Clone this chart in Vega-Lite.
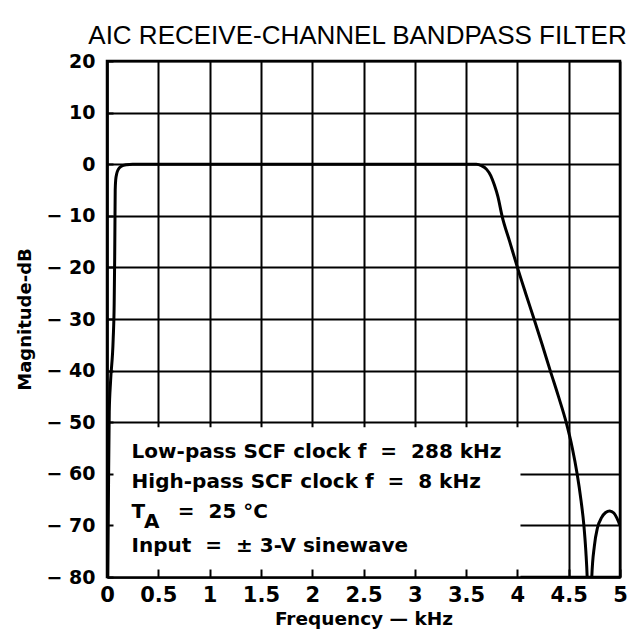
{
  "$schema": "https://vega.github.io/schema/vega-lite/v6.json",
  "width": 513,
  "height": 516,
  "autosize": {"type": "none"},
  "padding": {"left": 107, "top": 61, "right": 18, "bottom": 67},
  "background": "white",
  "title": {"text": "AIC RECEIVE-CHANNEL BANDPASS FILTER", "font": "Liberation Sans", "fontSize": 26, "fontWeight": "normal", "color": "black", "anchor": "middle", "offset": 3, "dx": -6},
  "config": {"view": {"stroke": "black", "strokeWidth": 2.5}},
  "resolve": {"axis": {"x": "independent", "y": "independent"}},
  "layer": [
    {
      "data": {"values": [{"box": "conditions"}]},
      "mark": {"type": "rect", "fill": "white"},
      "encoding": {
        "x": {"datum": 0, "type": "quantitative", "scale": {"domain": [0, 5], "nice": false, "zero": false},
          "axis": {"orient": "bottom", "values": [0, 0.5, 1, 1.5, 2, 2.5, 3, 3.5, 4, 4.5, 5], "grid": true, "gridColor": "black", "gridWidth": 2, "gridOpacity": 1, "domain": false, "ticks": false, "labels": false, "title": null, "zindex": 0}},
        "x2": {"datum": 4.03},
        "y": {"datum": -80, "type": "quantitative", "scale": {"domain": [-80, 20], "nice": false, "zero": false},
          "axis": {"orient": "left", "values": [-80, -70, -60, -50, -40, -30, -20, -10, 0, 10, 20], "grid": true, "gridColor": "black", "gridWidth": 2, "gridOpacity": 1, "domain": false, "ticks": false, "labels": false, "title": null, "zindex": 0}},
        "y2": {"datum": -51}
      }
    },
    {
      "data": {"values": [
        {"f": 0.008, "db": -80}, {"f": 0.015, "db": -62}, {"f": 0.022, "db": -48}, {"f": 0.035, "db": -42},
        {"f": 0.06, "db": -34}, {"f": 0.07, "db": -27}, {"f": 0.075, "db": -18}, {"f": 0.078, "db": -10},
        {"f": 0.08, "db": -5}, {"f": 0.085, "db": -3}, {"f": 0.095, "db": -1.8}, {"f": 0.11, "db": -1},
        {"f": 0.14, "db": -0.4}, {"f": 0.19, "db": -0.1}, {"f": 0.25, "db": 0}, {"f": 0.5, "db": 0},
        {"f": 1, "db": 0}, {"f": 1.5, "db": 0}, {"f": 2, "db": 0}, {"f": 2.5, "db": 0}, {"f": 3, "db": 0},
        {"f": 3.5, "db": 0}, {"f": 3.6, "db": 0}, {"f": 3.65, "db": -0.3}, {"f": 3.7, "db": -1},
        {"f": 3.74, "db": -2.2}, {"f": 3.775, "db": -4}, {"f": 3.81, "db": -6.3}, {"f": 3.85, "db": -10},
        {"f": 3.925, "db": -15}, {"f": 4.0, "db": -20}, {"f": 4.08, "db": -25}, {"f": 4.162, "db": -30},
        {"f": 4.242, "db": -35}, {"f": 4.32, "db": -40}, {"f": 4.4, "db": -45}, {"f": 4.475, "db": -50},
        {"f": 4.535, "db": -55}, {"f": 4.582, "db": -60}, {"f": 4.619, "db": -65}, {"f": 4.648, "db": -70},
        {"f": 4.667, "db": -75}, {"f": 4.68, "db": -80}, {"f": 4.695, "db": -92}, {"f": 4.71, "db": -92},
        {"f": 4.725, "db": -80}, {"f": 4.75, "db": -74}, {"f": 4.78, "db": -70.5}, {"f": 4.82, "db": -68.5},
        {"f": 4.86, "db": -67.5}, {"f": 4.9, "db": -67.2}, {"f": 4.94, "db": -67.6}, {"f": 4.97, "db": -68.6},
        {"f": 5.0, "db": -70}
      ]},
      "mark": {"type": "line", "color": "black", "strokeWidth": 3, "interpolate": "monotone", "clip": true},
      "encoding": {
        "x": {"field": "f", "type": "quantitative",
          "axis": {"orient": "bottom", "values": [0, 0.5, 1, 1.5, 2, 2.5, 3, 3.5, 4, 4.5, 5], "grid": false, "tickSize": -8, "tickColor": "black", "tickWidth": 2, "domainColor": "black", "domainWidth": 2.5, "labelFont": "DejaVu Sans", "labelFontWeight": "bold", "labelFontSize": 21, "labelColor": "black", "labelPadding": 15, "labelFlush": false, "labelOverlap": false, "labelExpr": "'' + datum.value", "title": "Frequency — kHz", "titleFont": "DejaVu Sans", "titleFontSize": 18.5, "titleFontWeight": "bold", "titleColor": "black", "titlePadding": 4, "zindex": 1}},
        "y": {"field": "db", "type": "quantitative",
          "axis": {"orient": "left", "values": [-80, -70, -60, -50, -40, -30, -20, -10, 0, 10, 20], "grid": false, "tickSize": -6, "tickColor": "black", "tickWidth": 2, "domainColor": "black", "domainWidth": 2.5, "labelFont": "DejaVu Sans", "labelFontWeight": "bold", "labelFontSize": 19, "labelColor": "black", "labelPadding": 18, "labelFlush": false, "labelOverlap": false, "labelExpr": "datum.value < 0 ? '− ' + abs(datum.value) : '' + datum.value", "title": "Magnitude-dB", "titleFont": "DejaVu Sans", "titleFontSize": 18, "titleFontWeight": "bold", "titleColor": "black", "titlePadding": 12, "zindex": 1}}
      }
    },
    {
      "data": {"values": [
        {"x": 0.24, "y": -55.8, "label": "Low-pass SCF clock f\u00a0\u00a0=\u00a0\u00a0288 kHz"},
        {"x": 0.24, "y": -61.6, "label": "High-pass SCF clock f\u00a0\u00a0=\u00a0\u00a08 kHz"},
        {"x": 0.24, "y": -67.4, "label": "T"},
        {"x": 0.36, "y": -69.4, "label": "A"},
        {"x": 0.69, "y": -67.4, "label": "=\u00a0\u00a025\u00a0°C"},
        {"x": 0.24, "y": -74.0, "label": "Input\u00a0\u00a0=\u00a0\u00a0± 3-V sinewave"}
      ]},
      "mark": {"type": "text", "align": "left", "baseline": "middle", "font": "DejaVu Sans", "fontWeight": "bold", "fontSize": 20, "color": "black"},
      "encoding": {
        "x": {"field": "x", "type": "quantitative", "axis": null},
        "y": {"field": "y", "type": "quantitative", "axis": null},
        "text": {"field": "label"}
      }
    }
  ]
}
